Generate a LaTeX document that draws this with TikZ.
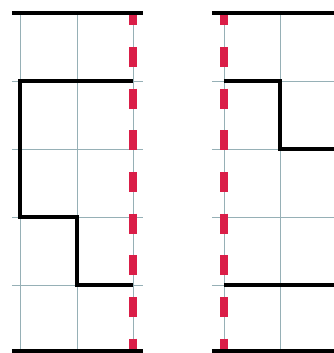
\documentclass[tikz,border=0pt]{standalone}
\usepackage{tikz}
\usepackage{xcolor}
\definecolor{gridgray}{RGB}{150,176,182}
\definecolor{cutred}{RGB}{218,30,72}

\begin{document}
\begin{tikzpicture}[x=0.03cm,y=-0.03cm,
  gridline/.style={draw=gridgray,line width=0.8pt},
  wall/.style={draw=black,line width=3.5pt},
  cutline/.style={draw=cutred,line width=7.5pt,
                  dash pattern=on 0.6cm off 0.65cm,dash phase=0.23cm},
]
\useasboundingbox (0,0) rectangle (334,353);
% Left panel — grid
\foreach \y in {81,149,217,285}{
  \draw[gridline] (12,\y) -- (143,\y);
}
\foreach \x in {20,77,133}{
  \draw[gridline] (\x,13) -- (\x,351);
}
% Right panel — grid
\foreach \y in {81,149,217,285}{
  \draw[gridline] (212,\y) -- (334,\y);
}
\foreach \x in {224,280}{
  \draw[gridline] (\x,13) -- (\x,351);
}
% Red dashed cut lines
\draw[cutline] (133,13) -- (133,353);
\draw[cutline] (224,13) -- (224,353);
% Left panel — outline
\draw[wall] (12,13) -- (143,13);
\draw[wall] (12,351) -- (143,351);
\draw[wall] (133,81) -- (20,81) -- (20,217) -- (77,217) -- (77,285) -- (133,285);
% Right panel — outline
\draw[wall] (212,13) -- (334,13);
\draw[wall] (212,351) -- (334,351);
\draw[wall] (224,81) -- (280,81) -- (280,149) -- (334,149);
\draw[wall] (224,285) -- (334,285);
\end{tikzpicture}
\end{document}
